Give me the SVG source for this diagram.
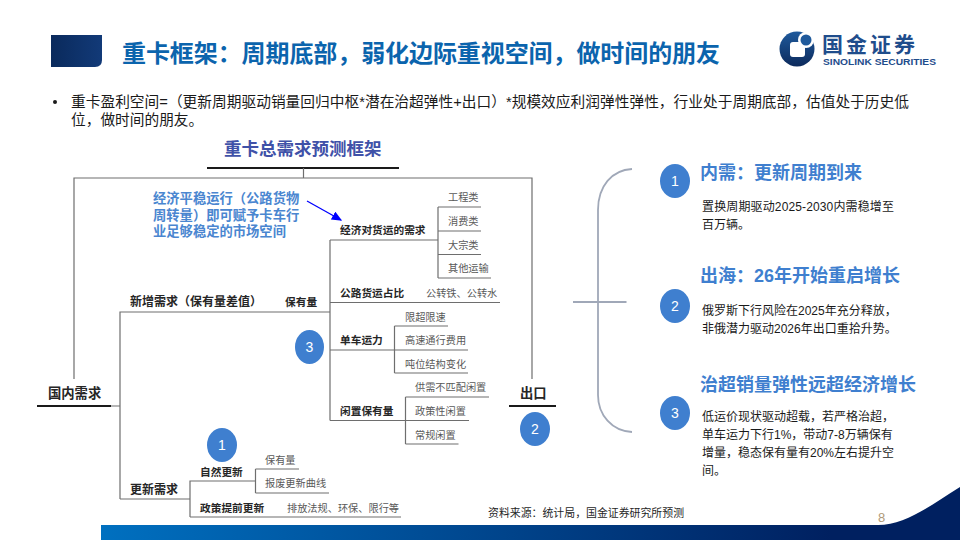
<svg xmlns="http://www.w3.org/2000/svg" width="960" height="540" viewBox="0 0 960 540">
<style>
text{font-family:"Liberation Sans","Noto Sans CJK SC",sans-serif}
.b{font-size:10.7px;font-weight:700;fill:#262626}
.g{font-size:10.2px;fill:#595959}
.h{font-size:18px;font-weight:700;fill:#3f7fcf}
.t{font-size:12px;fill:#1a1a1a}
.blue{font-size:13.3px;font-weight:700;fill:#4a86d0}
.n{font-size:14px;fill:#fff;text-anchor:middle}
.c{fill:#3f7fcf}
.l{fill:none;stroke:#6e6e6e;stroke-width:1.2}
.k{fill:none;stroke:#1a1a1a;stroke-width:2}
.br{fill:none;stroke:#a0a8b8;stroke-width:1.8}
</style>
<defs>
<linearGradient id="hd" x1="0" x2="1" y1="0" y2="0"><stop offset="0" stop-color="#0a2a5c"/><stop offset="1" stop-color="#123a78"/></linearGradient>
<linearGradient id="bar" x1="0" x2="1" y1="0" y2="0"><stop offset="0" stop-color="#0070c0"/><stop offset="0.85" stop-color="#002060"/></linearGradient>
<linearGradient id="lg" x1="0" x2="0" y1="0" y2="1"><stop offset="0" stop-color="#1f5a9c"/><stop offset="1" stop-color="#0c2a5c"/></linearGradient>
<marker id="ah" markerWidth="8" markerHeight="8" refX="7" refY="3.5" orient="auto"><path d="M0 0L8 3.5L0 7Z" fill="#0000ff"/></marker>
</defs>
<rect width="960" height="540" fill="#fff"/>
<g id="header">
<path d="M51 35H102V60Q102 67 95 67H51Z" fill="url(#hd)"/>
<text x="122" y="62" font-size="24" font-weight="700" fill="#0b64ad" textLength="598">重卡框架：周期底部，弱化边际重视空间，做时间的朋友</text>
</g>
<g id="logo">
<circle cx="797" cy="49" r="17.5" fill="url(#lg)"/>
<rect x="790" y="42" width="15" height="15" rx="3" fill="#fff"/>
<circle cx="806" cy="40" r="8" fill="#fff"/>
<circle cx="806" cy="40" r="5.5" fill="#1f5a9c"/>
<text x="822" y="52" font-size="21" font-weight="700" fill="#1f4d8c" textLength="93">国金证券</text>
<text x="823" y="64.5" font-size="9.8" font-weight="700" fill="#1f4d8c" textLength="113" lengthAdjust="spacingAndGlyphs">SINOLINK SECURITIES</text>
</g>
<g id="intro">
<circle cx="55" cy="102" r="2" fill="#1a1a1a"/>
<text x="71" y="107" font-size="14.7" fill="#1a1a1a" textLength="838">重卡盈利空间=（更新周期驱动销量回归中枢*潜在治超弹性+出口）*规模效应利润弹性弹性，行业处于周期底部，估值处于历史低</text>
<text x="71" y="125" font-size="14.7" fill="#1a1a1a">位，做时间的朋友。</text>
</g>
<g id="connectors">
<path class="k" d="M207 168H399"/>
<path class="l" d="M303.500 168V178M74 379V178H532V379"/>
<path class="k" d="M37 406H111M509 406H556"/>
<path class="l" d="M111 406H120M120 499V312H330M120 499H190M190 517V481H255M190 517H401M255.500 469V493M255.500 469H299M255.500 493H329"/>
<path class="l" d="M330 240V420.500M330 240H438M330 302.500H500M330 350H468M330 420.500H412"/>
<path class="l" d="M438 207V278M438 207H481M438 231H481M438 254.500H481M438 278H491"/>
<path class="l" d="M394.500 326V373M394.500 326H448M394.500 373H468"/>
<path class="l" d="M405.500 397V444M405.500 397H489M405.500 420.500H469M405.500 444H458.500"/>
<path d="M307 201L341 220" stroke="#0000ff" stroke-width="1.3" fill="none" marker-end="url(#ah)"/>
<path class="br" d="M632 169C612 170 598 186 598 210V395C598 415 612 431 632 432M573 302H626.500"/>
</g>
<g id="frame-title"><text x="224" y="155" font-size="17.500" font-weight="700" fill="#3f51a8">重卡总需求预测框架</text></g>
<g id="note-blue">
<text class="blue" x="153" y="203">经济平稳运行（公路货物</text>
<text class="blue" x="153" y="220">周转量）即可赋予卡车行</text>
<text class="blue" x="153" y="236">业足够稳定的市场空间</text>
</g>
<g id="node-domestic"><text x="48" y="398" font-size="13.300" font-weight="700" fill="#262626">国内需求</text></g>
<g id="node-export"><text x="520" y="398" font-size="13.300" font-weight="700" fill="#262626">出口</text>
<ellipse class="c" cx="535" cy="429" rx="15" ry="17"/><text class="n" x="535" y="434">2</text></g>
<g id="node-new"><text x="130" y="306" font-size="12" font-weight="700" fill="#262626">新增需求（保有量差值）</text></g>
<g id="node-stock"><text class="b" x="285" y="306">保有量</text>
<ellipse class="c" cx="309.500" cy="347" rx="14.500" ry="17"/><text class="n" x="309.500" y="352">3</text></g>
<g id="node-freight"><text class="b" x="340" y="234">经济对货运的需求</text>
<text class="g" x="448" y="201">工程类</text><text class="g" x="448" y="225">消费类</text><text class="g" x="448" y="249">大宗类</text><text class="g" x="448" y="272">其他运输</text></g>
<g id="node-road"><text class="b" x="340" y="297">公路货运占比</text><text class="g" x="426" y="297">公转铁、公转水</text></g>
<g id="node-truck"><text class="b" x="340" y="344">单车运力</text>
<text class="g" x="405" y="321">限超限速</text><text class="g" x="405" y="344">高速通行费用</text><text class="g" x="405" y="368">吨位结构变化</text></g>
<g id="node-idle"><text class="b" x="340" y="415">闲置保有量</text>
<text class="g" x="415" y="391">供需不匹配闲置</text><text class="g" x="415" y="415">政策性闲置</text><text class="g" x="415" y="439">常规闲置</text></g>
<g id="node-renew"><text x="130" y="494" font-size="12" font-weight="700" fill="#262626">更新需求</text></g>
<g id="node-natural"><ellipse class="c" cx="222" cy="445" rx="15" ry="17"/><text class="n" x="222" y="450">1</text>
<text class="b" x="200" y="476">自然更新</text><text class="g" x="265" y="464">保有量</text><text class="g" x="265" y="487">报废更新曲线</text></g>
<g id="node-policy"><text class="b" x="200" y="512">政策提前更新</text><text class="g" x="287" y="512">排放法规、环保、限行等</text></g>
<g id="panel-1"><ellipse class="c" cx="675" cy="181" rx="15" ry="17"/><text class="n" x="675" y="186">1</text>
<text class="h" x="700" y="179">内需：更新周期到来</text>
<text class="t" x="702" y="211" textLength="192">置换周期驱动2025-2030内需稳增至</text><text class="t" x="702" y="229">百万辆。</text></g>
<g id="panel-2"><ellipse class="c" cx="675" cy="306" rx="15" ry="17"/><text class="n" x="675" y="311">2</text>
<text class="h" x="700" y="282">出海：26年开始重启增长</text>
<text class="t" x="702" y="315">俄罗斯下行风险在2025年充分释放，</text><text class="t" x="702" y="333">非俄潜力驱动2026年出口重拾升势。</text></g>
<g id="panel-3"><ellipse class="c" cx="675" cy="413" rx="15" ry="17"/><text class="n" x="675" y="418">3</text>
<text class="h" x="700" y="391">治超销量弹性远超经济增长</text>
<text class="t" x="702" y="421">低运价现状驱动超载，若严格治超，</text><text class="t" x="702" y="439">单车运力下行1%，带动7-8万辆保有</text><text class="t" x="702" y="457">增量，稳态保有量有20%左右提升空</text><text class="t" x="702" y="475">间。</text></g>
<g id="footer">
<text x="488" y="517" font-size="10.900" fill="#262626">资料来源：统计局，国金证券研究所预测</text>
<rect x="101" y="525" width="859" height="15" fill="url(#bar)"/>
<path d="M878 525C905 525 930 506 960 487V540H878Z" fill="#002060"/>
<text x="878" y="521.500" font-size="13" fill="#b09a78">8</text>
</g>
</svg>
